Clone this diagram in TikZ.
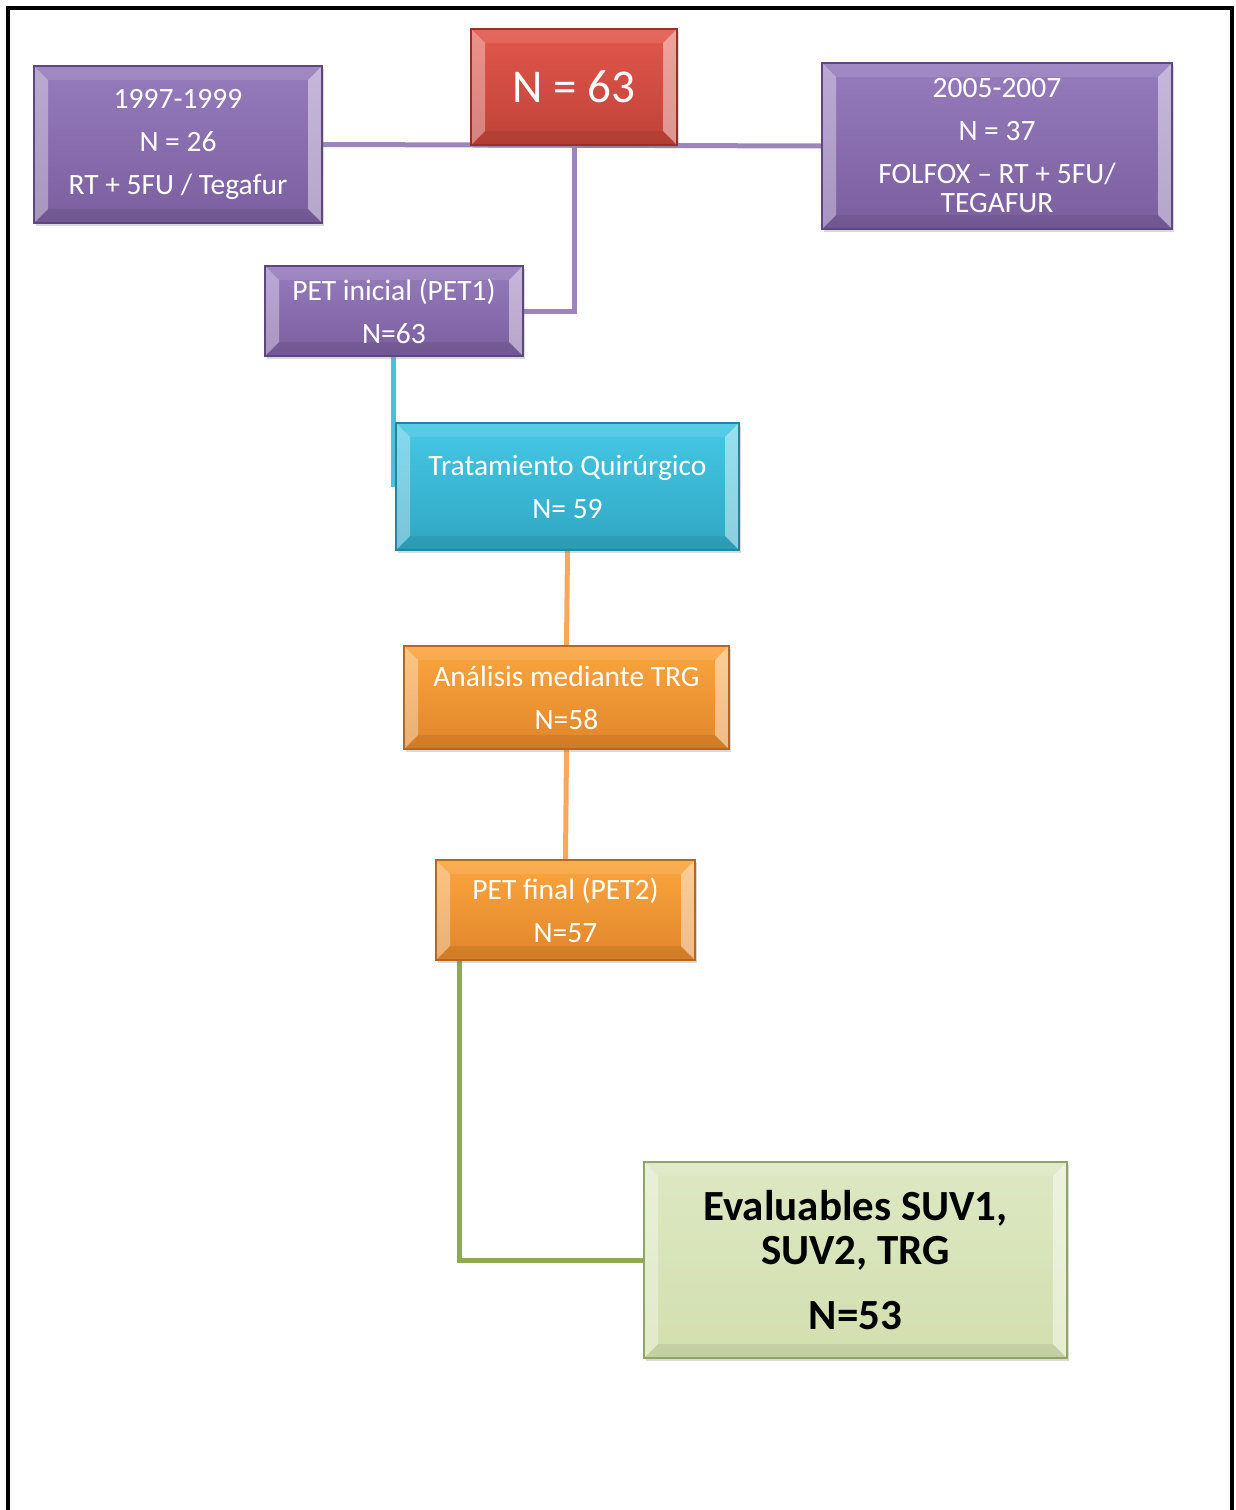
\documentclass[tikz,border=0pt]{standalone}
\usepackage{fontspec}
\setmainfont{Carlito}
\usetikzlibrary{shadows,backgrounds}

\definecolor{violetTop}{HTML}{977CBD}
\definecolor{violetBot}{HTML}{7A5E9E}
\definecolor{violetEdge}{HTML}{5E4780}
\definecolor{violetLink}{HTML}{9C84BC}
\definecolor{redTop}{HTML}{E2574C}
\definecolor{redBot}{HTML}{BF4238}
\definecolor{redEdge}{HTML}{9A2F28}
\definecolor{cyanTop}{HTML}{46C8E6}
\definecolor{cyanBot}{HTML}{2FA6C2}
\definecolor{cyanEdge}{HTML}{2386A0}
\definecolor{cyanLink}{HTML}{4BC0DA}
\definecolor{orangeTop}{HTML}{FBA63E}
\definecolor{orangeBot}{HTML}{E0852A}
\definecolor{orangeEdge}{HTML}{B8661C}
\definecolor{orangeLink}{HTML}{F9A75B}
\definecolor{greenTop}{HTML}{DDE8C3}
\definecolor{greenBot}{HTML}{D2DFAE}
\definecolor{greenEdge}{HTML}{8EA566}
\definecolor{greenLink}{HTML}{8FAA52}

\begin{document}
\begin{tikzpicture}[x=1pt,y=-1pt,
    stage/.style={draw, line width=1.2pt, align=center, text=white, inner sep=0pt,
        font=\fontsize{29.5}{43}\selectfont,
        drop shadow={opacity=0.3,shadow xshift=2pt,shadow yshift=-3pt},
        path picture={
            \fill[white,opacity=0.35] (path picture bounding box.north west) -- ++(14pt,-14pt)
                -- ([shift={(14pt,14pt)}]path picture bounding box.south west) -- (path picture bounding box.south west) -- cycle;
            \fill[white,opacity=0.45] (path picture bounding box.north east) -- ++(-14pt,-14pt)
                -- ([shift={(-14pt,14pt)}]path picture bounding box.south east) -- (path picture bounding box.south east) -- cycle;
            \fill[white,opacity=0.1] (path picture bounding box.north west) -- ++(14pt,-14pt)
                -- ([shift={(-14pt,-14pt)}]path picture bounding box.north east) -- (path picture bounding box.north east) -- cycle;
            \fill[black,opacity=0.07] (path picture bounding box.south west) -- ++(14pt,14pt)
                -- ([shift={(-14pt,14pt)}]path picture bounding box.south east) -- (path picture bounding box.south east) -- cycle;
        }},
    violetbox/.style={stage, draw=violetEdge, top color=violetTop, bottom color=violetBot},
    redbox/.style={stage, draw=redEdge, top color=redTop, bottom color=redBot},
    cyanbox/.style={stage, draw=cyanEdge, top color=cyanTop, bottom color=cyanBot},
    orangebox/.style={stage, draw=orangeEdge, top color=orangeTop, bottom color=orangeBot},
    greenbox/.style={stage, draw=greenEdge, top color=greenTop, bottom color=greenBot, text=black},
    link/.style={line width=5pt}
]
    \useasboundingbox (0,0) rectangle (1235,1510);
    \draw[line width=4pt] (8,1512) -- (8,8) -- (1232,8) -- (1232,1512);

    \node[redbox, minimum width=206pt, minimum height=116pt, font=\fontsize{47}{47}\selectfont] (total) at (574,87) {N = 63};
    \node[violetbox, minimum width=288pt, minimum height=157pt] (early) at (178,144.5) {1997-1999\\N = 26\\RT + 5FU / Tegafur};
    \node[violetbox, minimum width=350pt, minimum height=166pt] (late) at (997,146) {2005-2007\\N = 37\\FOLFOX – RT + 5FU/\\[-14pt]TEGAFUR};
    \node[violetbox, minimum width=258pt, minimum height=90pt] (pet1) at (394,311) {PET inicial (PET1)\\N=63};
    \node[cyanbox, minimum width=343pt, minimum height=127pt] (surgery) at (567.5,486.5) {Tratamiento Quirúrgico\\N= 59};
    \node[orangebox, minimum width=325pt, minimum height=103pt] (trg) at (566.5,697.5) {Análisis mediante TRG\\N=58};
    \node[orangebox, minimum width=259pt, minimum height=100pt] (pet2) at (565.5,910) {PET final (PET2)\\N=57};
    \node[greenbox, minimum width=423pt, minimum height=196pt, font=\fontsize{43}{44}\selectfont\bfseries] (eval) at (855.5,1260) {Evaluables SUV1,\\SUV2, TRG\\[21pt]N=53};

    % connectors behind the boxes
    \begin{scope}[on background layer]
        \draw[link,violetLink] (early.east) -- (late.west);
        \draw[link,violetLink] (total.south) |- (pet1.east);
        \draw[link,cyanLink] ([xshift=-1pt]pet1.south) -- ([xshift=-1pt]pet1.south |- surgery.west);
        \draw[link,orangeLink] (surgery.south) -- (trg.north);
        \draw[link,orangeLink] (trg.south) -- (pet2.north);
        \draw[link,greenLink] ([xshift=24pt]pet2.south west) |- (eval.west);
    \end{scope}
\end{tikzpicture}
\end{document}
